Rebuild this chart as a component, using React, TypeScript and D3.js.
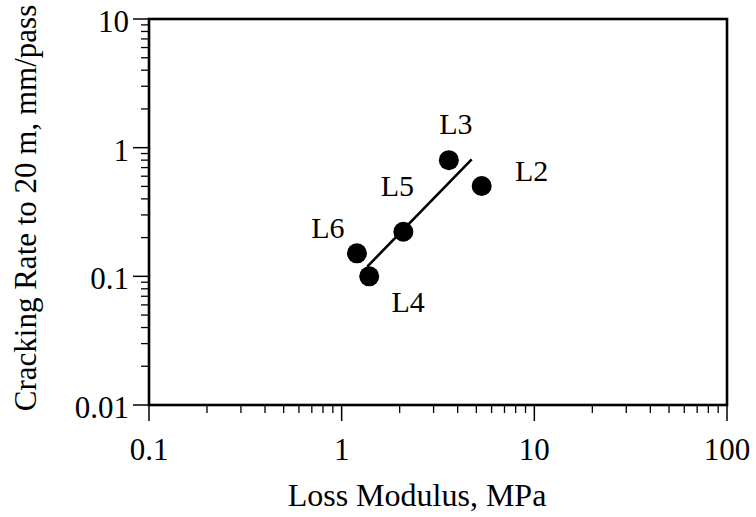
import { useEffect, useRef } from 'react';
import * as d3 from 'd3';

// Mix labels and measured values
const mixes = ['L3', 'L2', 'L5', 'L6', 'L4'];
const lossModulus = [3.6, 5.33, 2.09, 1.2, 1.39];
const crackingRate = [0.8, 0.504, 0.222, 0.151, 0.1];

// Fitted trend line (end points)
const fitX = [1.358, 4.73];
const fitY = [0.119, 0.812];

const xTicks = [0.1, 1, 10, 100];
const yTicks = [0.01, 0.1, 1, 10];
const xTickLabels = ['0.1', '1', '10', '100'];
const yTickLabels = ['0.01', '0.1', '1', '10'];

// label placement offsets from each point (px)
const labelOffset: Record<string, [number, number]> = {
  L3: [7, -26],
  L2: [50, -5],
  L5: [-6, -36],
  L6: [-29, -15],
  L4: [39, 36],
};

const FONT = "'Liberation Serif', 'Times New Roman', serif";

export default function App() {
  const svgRef = useRef<SVGSVGElement>(null);

  useEffect(() => {
    if (!svgRef.current) return;
    const W = 756;
    const H = 517;
    const left = 149, right = 727, top = 19, bottom = 405;

    const svg = d3.select(svgRef.current);
    svg.selectAll('*').remove();
    svg.attr('width', W).attr('height', H);

    const x = d3.scaleLog().domain([0.1, 100]).range([left, right]);
    const y = d3.scaleLog().domain([0.01, 10]).range([bottom, top]);

    // minor ticks
    const minorX: number[] = [];
    const minorY: number[] = [];
    for (let d = 0.1; d < 100; d *= 10) {
      for (let k = 2; k <= 9; k++) minorX.push(d * k);
    }
    for (let d = 0.01; d < 10; d *= 10) {
      for (let k = 2; k <= 9; k++) minorY.push(d * k);
    }

    const g = svg.append('g');

    g.selectAll('.xminor')
      .data(minorX)
      .join('line')
      .attr('x1', d => x(d)).attr('x2', d => x(d))
      .attr('y1', bottom).attr('y2', bottom + 8)
      .attr('stroke', '#000').attr('stroke-width', 1.3);

    g.selectAll('.yminor')
      .data(minorY)
      .join('line')
      .attr('x1', left - 8).attr('x2', left)
      .attr('y1', d => y(d)).attr('y2', d => y(d))
      .attr('stroke', '#000').attr('stroke-width', 1.3);

    g.selectAll('.xmajor')
      .data(xTicks)
      .join('line')
      .attr('x1', d => x(d)).attr('x2', d => x(d))
      .attr('y1', bottom).attr('y2', bottom + 16)
      .attr('stroke', '#000').attr('stroke-width', 1.5);

    g.selectAll('.ymajor')
      .data(yTicks)
      .join('line')
      .attr('x1', left - 16).attr('x2', left)
      .attr('y1', d => y(d)).attr('y2', d => y(d))
      .attr('stroke', '#000').attr('stroke-width', 1.5);

    // frame
    g.append('rect')
      .attr('x', left).attr('y', top)
      .attr('width', right - left).attr('height', bottom - top)
      .attr('fill', 'none')
      .attr('stroke', '#000')
      .attr('stroke-width', 2.6);

    // tick labels
    g.selectAll('.xlab')
      .data(xTicks)
      .join('text')
      .attr('x', d => x(d))
      .attr('y', 460)
      .attr('text-anchor', 'middle')
      .attr('font-family', FONT)
      .attr('font-size', 31)
      .text((d, i) => xTickLabels[i]);

    g.selectAll('.ylab')
      .data(yTicks)
      .join('text')
      .attr('x', 129)
      .attr('y', d => y(d) + 13)
      .attr('text-anchor', 'end')
      .attr('font-family', FONT)
      .attr('font-size', 31)
      .text((d, i) => yTickLabels[i]);

    // axis titles
    g.append('text')
      .attr('x', 417)
      .attr('y', 506)
      .attr('text-anchor', 'middle')
      .attr('font-family', FONT)
      .attr('font-size', 32)
      .text('Loss Modulus, MPa');

    g.append('text')
      .attr('transform', `translate(36, ${(top + bottom) / 2 - 4}) rotate(-90)`)
      .attr('text-anchor', 'middle')
      .attr('font-family', FONT)
      .attr('font-size', 31)
      .text('Cracking Rate to 20 m, mm/pass');

    // trend line
    g.append('line')
      .attr('x1', x(fitX[0])).attr('y1', y(fitY[0]))
      .attr('x2', x(fitX[1])).attr('y2', y(fitY[1]))
      .attr('stroke', '#000')
      .attr('stroke-width', 2.6);

    // points
    g.selectAll('.pt')
      .data(mixes)
      .join('circle')
      .attr('cx', (d, i) => x(lossModulus[i]))
      .attr('cy', (d, i) => y(crackingRate[i]))
      .attr('r', 10)
      .attr('fill', '#000');

    // point labels
    g.selectAll('.ptlab')
      .data(mixes)
      .join('text')
      .attr('x', (d, i) => x(lossModulus[i]) + labelOffset[d][0])
      .attr('y', (d, i) => y(crackingRate[i]) + labelOffset[d][1])
      .attr('text-anchor', 'middle')
      .attr('font-family', FONT)
      .attr('font-size', 30)
      .text(d => d);
  }, []);

  return (
    <svg
      ref={svgRef}
      style={{ position: 'absolute', left: 0, top: 0, background: '#fff' }}
    />
  );
}
